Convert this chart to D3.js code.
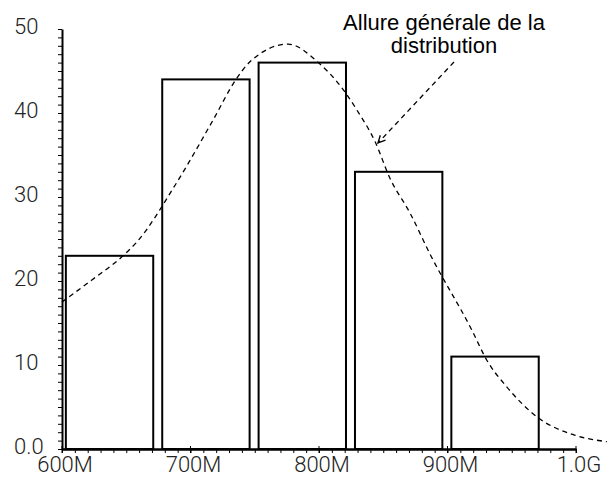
<!DOCTYPE html>
<html>
<head>
<meta charset="utf-8">
<script src="https://cdn.jsdelivr.net/npm/d3@7"></script>
<style>
  body { margin: 0; background: #fff; }
  .tick-lbl { font-family: Roboto, "Liberation Sans", sans-serif; font-weight: 300; font-size: 22px; fill: #222; }
  .note { font-family: "Liberation Sans", Arial, sans-serif; font-size: 22px; fill: #000; }
</style>
</head>
<body>
<div id="vis"></div>
<script>
const SVG = d3.select("#vis").append("svg");
const WIDTH = 608;
const HEIGHT = 483;
SVG.attr("width", WIDTH).attr("height", HEIGHT);

// bins (M) and counts
const BIN_START = [603, 678, 753, 828, 903];
const BIN_END = [671, 746, 821, 896, 971];
const COUNTS = [23, 44, 46, 33, 11];

// dashed curve
const CURVE_X = [600, 623, 647.5, 658, 688, 717.7, 735.4, 746.3, 776, 799.5, 820.2, 829.3, 843.6, 855.3, 870.8, 886.4, 918.8, 930.5, 946.1, 970.7, 997.9, 1024];
const CURVE_Y = [17.5, 20.1, 23.0, 24.6, 31.4, 39.2, 44.0, 46.1, 48.2, 46.0, 42.5, 40.4, 36.6, 32.2, 28.1, 23.2, 14.2, 10.6, 7.4, 3.7, 1.7, 0.87];

const X_TICKS = [600, 700, 800, 900, 1000];
const X_LABELS = ["600M", "700M", "800M", "900M", "1.0G"];
const Y_TICKS = [0, 10, 20, 30, 40, 50];
const Y_LABELS = ["0.0", "10", "20", "30", "40", "50"];

const NOTE = ["Allure générale de la", "distribution"];

const x = d3.scaleLinear().domain([600, 1000]).range([62, 576]);
const y = d3.scaleLinear().domain([0, 50]).range([449, 29]);

// axes ------------------------------------------------------------------
const yAxis = SVG.append("g").attr("transform", `translate(${x(600)},0)`)
    .call(d3.axisLeft(y).tickValues(d3.range(0, 51, 1)).tickSize(4).tickSizeOuter(0).tickFormat(""));
yAxis.selectAll(".tick line").attr("stroke-width", 1);
yAxis.select(".domain").attr("stroke-width", 2);

const xAxis = SVG.append("g").attr("transform", `translate(0,${y(0)})`)
    .call(d3.axisBottom(x).tickValues(d3.range(600, 1001, 10)).tickSize(4).tickSizeOuter(0).tickFormat(""));
xAxis.selectAll(".tick line").attr("stroke-width", 1);
xAxis.select(".domain").attr("stroke-width", 2.5);

// major x ticks poke above the axis
SVG.append("g").selectAll("line").data(X_TICKS).join("line")
    .attr("x1", d => x(d)).attr("x2", d => x(d))
    .attr("y1", y(0) - 3).attr("y2", y(0) + 4)
    .attr("stroke", "#000").attr("stroke-width", 1);

SVG.append("g").selectAll("text").data(X_TICKS).join("text")
    .classed("tick-lbl", true)
    .attr("x", d => x(d) + 3)
    .attr("y", 472)
    .attr("text-anchor", "middle")
    .text((d, i) => X_LABELS[i]);

SVG.append("g").selectAll("text").data(Y_TICKS).join("text")
    .classed("tick-lbl", true)
    .attr("x", 14)
    .attr("y", d => y(d) + 5)
    .text((d, i) => Y_LABELS[i]);

// bars ------------------------------------------------------------------
SVG.append("g").selectAll("rect").data(COUNTS).join("rect")
    .attr("x", (d, i) => x(BIN_START[i]))
    .attr("width", (d, i) => x(BIN_END[i]) - x(BIN_START[i]))
    .attr("y", d => y(d))
    .attr("height", d => y(0) - y(d))
    .attr("fill", "none")
    .attr("stroke", "#000")
    .attr("stroke-width", 2);

// curve -----------------------------------------------------------------
const line = d3.line().x(d => x(d[0])).y(d => y(d[1])).curve(d3.curveMonotoneX);
SVG.append("path")
    .datum(CURVE_X.map((v, i) => [v, CURVE_Y[i]]))
    .attr("d", line)
    .attr("fill", "none")
    .attr("stroke", "#000")
    .attr("stroke-width", 1.3)
    .attr("stroke-dasharray", "5,4");

// annotation ------------------------------------------------------------
SVG.append("defs").append("marker")
    .attr("id", "arr")
    .attr("viewBox", "0 0 10 10")
    .attr("refX", 9).attr("refY", 5)
    .attr("markerWidth", 9).attr("markerHeight", 9)
    .attr("markerUnits", "userSpaceOnUse")
    .attr("orient", "auto")
    .append("path")
    .attr("d", "M1,1 L9,5 L1,9")
    .attr("fill", "none")
    .attr("stroke", "#000")
    .attr("stroke-width", 1.5);

SVG.append("line")
    .attr("x1", 454).attr("y1", 62)
    .attr("x2", 378).attr("y2", 143)
    .attr("stroke", "#000")
    .attr("stroke-width", 1.3)
    .attr("stroke-dasharray", "5,4")
    .attr("marker-end", "url(#arr)");

SVG.append("g").selectAll("text").data(NOTE).join("text")
    .classed("note", true)
    .attr("x", 444)
    .attr("y", (d, i) => 30 + i * 23)
    .attr("text-anchor", "middle")
    .text(d => d);
</script>
</body>
</html>
